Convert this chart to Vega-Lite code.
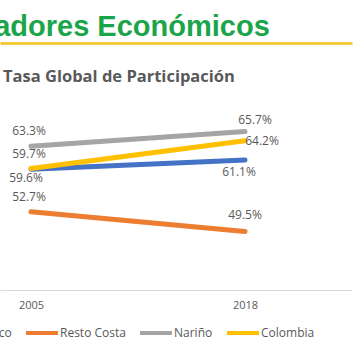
{
  "$schema": "https://vega.github.io/schema/vega-lite/v6.json",
  "width": 352,
  "height": 185,
  "autosize": {"type": "none"},
  "padding": {"left": 0, "top": 105, "right": 4, "bottom": 74},
  "background": "white",
  "title": {
    "text": "Tasa Global de Participación",
    "anchor": "start",
    "frame": "group",
    "orient": "top",
    "font": "Open Sans",
    "fontSize": 16.5,
    "fontWeight": "bold",
    "color": "#595959",
    "dx": 3,
    "offset": -73
  },
  "config": {
    "view": {"stroke": null},
    "axis": {"grid": false}
  },
  "data": {
    "values": [
      {"region": "Pacífico", "year": 2005, "value": 0.596},
      {"region": "Pacífico", "year": 2018, "value": 0.611},
      {"region": "Resto Costa", "year": 2005, "value": 0.527},
      {"region": "Resto Costa", "year": 2018, "value": 0.495},
      {"region": "Nariño", "year": 2005, "value": 0.633},
      {"region": "Nariño", "year": 2018, "value": 0.657},
      {"region": "Colombia", "year": 2005, "value": 0.597},
      {"region": "Colombia", "year": 2018, "value": 0.642}
    ]
  },
  "resolve": {"axis": {"x": "independent"}},
  "layer": [
    {
      "mark": {"type": "line", "strokeWidth": 5, "strokeCap": "round"},
      "encoding": {
        "x": {
          "field": "year", "type": "quantitative",
          "scale": {"domain": [2003.117, 2024.5], "nice": false, "zero": false},
          "axis": {
            "orient": "bottom", "values": [2005, 2018], "format": "d", "title": null,
            "ticks": false, "tickSize": 0, "domainColor": "#D9D9D9", "domainWidth": 1,
            "labelFont": "Open Sans", "labelFontSize": 11, "labelColor": "#595959",
            "labelBaseline": "middle", "labelPadding": 15, "labelFlush": false
          }
        },
        "y": {
          "field": "value", "type": "quantitative",
          "scale": {"domain": [0.40, 0.70], "nice": false, "zero": false},
          "axis": null
        },
        "color": {
          "field": "region", "type": "nominal",
          "scale": {
            "domain": ["Pacífico", "Resto Costa", "Nariño", "Colombia"],
            "range": ["#4472C4", "#ED7D31", "#A5A5A5", "#FFC000"]
          },
          "legend": {
            "orient": "none", "direction": "horizontal", "legendX": -67, "legendY": 210,
            "title": null, "symbolType": "stroke", "symbolSize": 1024, "symbolStrokeWidth": 4,
            "labelFont": "Open Sans", "labelFontSize": 12, "labelColor": "#595959",
            "labelOffset": 0, "columnPadding": 6, "padding": 0, "gridAlign": "none"
          }
        }
      }
    },
    {
      "transform": [{"filter": "(datum.year == 2005 && datum.region != 'Pacífico')"}],
      "mark": {"type": "text", "font": "Open Sans", "fontSize": 12, "color": "#595959", "baseline": "middle", "align": "center", "dx": -2, "dy": -15},
      "encoding": {
        "x": {
          "field": "year", "type": "quantitative",
          "axis": {
            "orient": "top", "offset": 62, "labels": false, "ticks": false, "tickSize": 0,
            "domainColor": "#F5C21B", "domainWidth": 2.5,
            "title": "Indicadores Económicos", "titleFont": "Liberation Sans", "titleFontSize": 29,
            "titleFontWeight": "bold", "titleColor": "#1BA54B", "titleAnchor": "start",
            "titleAlign": "left", "titleBaseline": "alphabetic", "titleX": -74, "titleY": -8
          }
        },
        "y": {"field": "value", "type": "quantitative"},
        "text": {"field": "value", "format": ".1%"}
      }
    },
    {
      "transform": [{"filter": "datum.year == 2005 && datum.region == 'Pacífico'"}],
      "mark": {"type": "text", "font": "Open Sans", "fontSize": 12, "color": "#595959", "baseline": "middle", "align": "center", "dx": -5, "dy": 9},
      "encoding": {
        "x": {"field": "year", "type": "quantitative", "axis": null},
        "y": {"field": "value", "type": "quantitative"},
        "text": {"field": "value", "format": ".1%"}
      }
    },
    {
      "transform": [{"filter": "datum.year == 2018 && datum.region == 'Nariño'"}],
      "mark": {"type": "text", "font": "Open Sans", "fontSize": 12, "color": "#595959", "baseline": "middle", "align": "center", "dx": 10, "dy": -12},
      "encoding": {
        "x": {"field": "year", "type": "quantitative", "axis": null},
        "y": {"field": "value", "type": "quantitative"},
        "text": {"field": "value", "format": ".1%"}
      }
    },
    {
      "transform": [{"filter": "datum.year == 2018 && datum.region == 'Colombia'"}],
      "mark": {"type": "text", "font": "Open Sans", "fontSize": 12, "color": "#595959", "baseline": "middle", "align": "center", "dx": 17, "dy": 0},
      "encoding": {
        "x": {"field": "year", "type": "quantitative", "axis": null},
        "y": {"field": "value", "type": "quantitative"},
        "text": {"field": "value", "format": ".1%"}
      }
    },
    {
      "transform": [{"filter": "datum.year == 2018 && datum.region == 'Pacífico'"}],
      "mark": {"type": "text", "font": "Open Sans", "fontSize": 12, "color": "#595959", "baseline": "middle", "align": "center", "dx": -6, "dy": 12},
      "encoding": {
        "x": {"field": "year", "type": "quantitative", "axis": null},
        "y": {"field": "value", "type": "quantitative"},
        "text": {"field": "value", "format": ".1%"}
      }
    },
    {
      "transform": [{"filter": "datum.year == 2018 && datum.region == 'Resto Costa'"}],
      "mark": {"type": "text", "font": "Open Sans", "fontSize": 12, "color": "#595959", "baseline": "middle", "align": "center", "dx": 0, "dy": -16},
      "encoding": {
        "x": {"field": "year", "type": "quantitative", "axis": null},
        "y": {"field": "value", "type": "quantitative"},
        "text": {"field": "value", "format": ".1%"}
      }
    }
  ]
}
